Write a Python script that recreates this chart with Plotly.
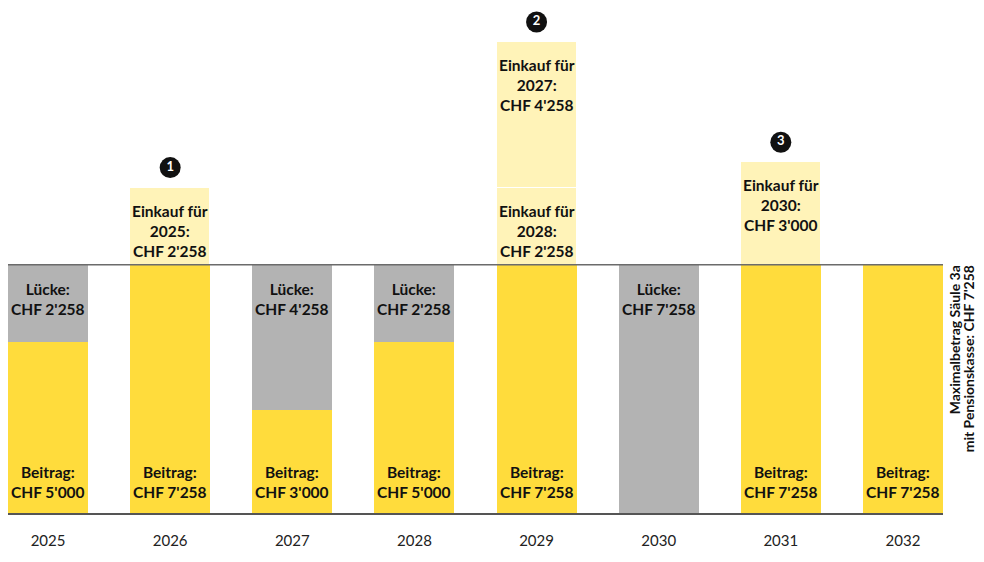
import numpy as np
import plotly.graph_objects as go

years = ["2025", "2026", "2027", "2028", "2029", "2030", "2031", "2032"]
beitrag = [5000, 7258, 3000, 5000, 7258, 0, 7258, 7258]
luecke = [2258, 0, 4258, 2258, 0, 7258, 0, 0]
einkauf_a = [0, 2258, 0, 0, 2258, 0, 3000, 0]
einkauf_a_year = ["", "2025", "", "", "2028", "", "2030", ""]
einkauf_b = [0, 0, 0, 0, 4258, 0, 0, 0]
einkauf_b_year = ["", "", "", "", "2027", "", "", ""]
step_no = ["", "1", "", "", "2", "", "3", ""]
max_3a = 7258
side_note = ["Maximalbetrag Säule 3a", "mit Pensionskasse: CHF 7'258"]

YELLOW = "#FFDC3C"
GREY = "#B3B3B3"
LIGHT = "#FFF3B8"
FONT = "Lato"


def chf(v):
    s = f"{int(v):,}".replace(",", "'")
    return f"CHF {s}"


x = np.arange(len(years))
beitrag = np.array(beitrag)
luecke = np.array(luecke)
ea = np.array(einkauf_a)
eb = np.array(einkauf_b)
base = beitrag + luecke
top_a = base + ea
top_b = top_a + eb
stack_top = top_b

# page body has an 8px margin, so the figure is drawn at (8, 8); keep it inside the window
FIG_W, FIG_H = 968, 546
M_L, M_R, M_T, M_B = 0, 33, 0, 41
plot_h = FIG_H - M_T - M_B
ymax = 14768
px = ymax / plot_h  # CHF per pixel

fig = go.Figure()
W = 0.656
fig.add_bar(x=x, y=beitrag, marker=dict(color=YELLOW, line=dict(width=0)), width=W, name="Beitrag")
fig.add_bar(x=x, y=luecke, marker=dict(color=GREY, line=dict(width=0)), width=W, name="Lücke")
fig.add_bar(x=x, y=ea, marker=dict(color=LIGHT, line=dict(width=1, color="white")), width=W, name="Einkauf")
fig.add_bar(x=x, y=eb, marker=dict(color=LIGHT, line=dict(width=1, color="white")), width=W, name="Einkauf 2")

ann = []
lab_font = dict(family=FONT, size=15.5, color="#111111")

for i in range(len(years)):
    if beitrag[i] > 0:
        ann.append(dict(x=i, y=0, yanchor="bottom", yshift=10, showarrow=False,
                        text=f"<b>Beitrag:<br>{chf(beitrag[i])}</b>", font=lab_font))
    if luecke[i] > 0:
        ann.append(dict(x=i, y=beitrag[i] + luecke[i], yanchor="top", yshift=-13, showarrow=False,
                        text=f"<b>Lücke:<br>{chf(luecke[i])}</b>", font=lab_font))
    if ea[i] > 0:
        ann.append(dict(x=i, y=top_a[i], yanchor="top", yshift=-12, showarrow=False,
                        text=f"<b>Einkauf für<br>{einkauf_a_year[i]}:<br>{chf(ea[i])}</b>", font=lab_font))
    if eb[i] > 0:
        ann.append(dict(x=i, y=top_b[i], yanchor="top", yshift=-12, showarrow=False,
                        text=f"<b>Einkauf für<br>{einkauf_b_year[i]}:<br>{chf(eb[i])}</b>", font=lab_font))

for k, t in enumerate(side_note):
    ann.append(dict(xref="paper", x=1, xanchor="center", xshift=11 + k * 14, y=max_3a, yanchor="top",
                    yshift=1, textangle=-90, showarrow=False, text=f"<b>{t}</b>",
                    font=dict(family=FONT, size=14, color="#111111")))

idx = [i for i in range(len(years)) if step_no[i]]
fig.add_scatter(x=[x[i] for i in idx], y=[stack_top[i] + 20 * px for i in idx],
                mode="markers+text", text=[f"<b>{step_no[i]}</b>" for i in idx],
                textposition="middle center",
                textfont=dict(family=FONT, size=13, color="white"),
                marker=dict(size=21, color="#111111", line=dict(width=0)),
                hoverinfo="skip", cliponaxis=False)

fig.add_shape(type="line", xref="paper", x0=0, x1=1, y0=max_3a, y1=max_3a,
              line=dict(color="#6b6b6b", width=1.5), layer="above")

fig.update_layout(
    barmode="stack",
    width=FIG_W, height=FIG_H,
    margin=dict(l=M_L, r=M_R, t=M_T, b=M_B),
    paper_bgcolor="white", plot_bgcolor="white",
    showlegend=False,
    bargap=0,
    annotations=ann,
    xaxis=dict(range=[-W / 2, len(years) - 1 + W / 2], tickmode="array", tickvals=x, ticktext=years,
               showgrid=False, zeroline=False, showline=True, linecolor="#555555", linewidth=1.5,
               ticks="", tickfont=dict(family=FONT, size=15, color="#222222"),
               ticklabelstandoff=13),
    yaxis=dict(range=[0, ymax], visible=False, showgrid=False, zeroline=False),
)

fig.write_html("out.html")
